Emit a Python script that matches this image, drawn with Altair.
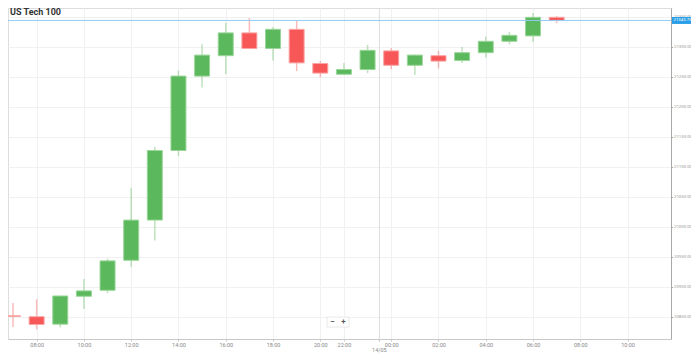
import altair as alt
import pandas as pd

# ---- data ----
times = ["07:00", "08:00", "09:00", "10:00", "11:00", "12:00", "13:00", "14:00",
         "15:00", "16:00", "17:00", "18:00", "19:00", "20:00", "22:00", "23:00",
         "00:00", "01:00", "02:00", "03:00", "04:00", "05:00", "06:00", "07:00"]
opens = [20851.5, 20850, 20837.5, 20884, 20894, 20944, 21011, 21127,
         21251, 21285, 21323, 21297, 21329, 21272, 21254, 21262,
         21293, 21269, 21285, 21277, 21290, 21309, 21318, 21349]
highs = [20873, 20879, 20885, 20913, 20947, 21065, 21133, 21260,
         21304, 21340, 21348, 21333, 21343, 21276, 21273, 21303,
         21298, 21287, 21293, 21299.5, 21317, 21325, 21356, 21351]
lows = [20833, 20829, 20832, 20863, 20889, 20933, 20977, 21118,
        21232, 21254.5, 21296, 21277, 21259.5, 21249, 21254, 21256,
        21263, 21253, 21264, 21273, 21282, 21304, 21308, 21339]
closes = [20850.5, 20837, 20884.5, 20893, 20943, 21011, 21127, 21251,
          21286, 21323, 21297, 21329, 21273, 21256, 21262, 21294,
          21269, 21286, 21276, 21290, 21309, 21319, 21349, 21343.75]

tick_pos = [1, 3, 5, 7, 9, 11, 13, 14, 16, 18, 20, 22, 24, 26]
tick_lab = ["08:00", "10:00", "12:00", "14:00", "16:00", "18:00", "20:00",
            "22:00", "00:00", "02:00", "04:00", "06:00", "08:00", "10:00"]
y_ticks = [20850, 20900, 20950, 21000, 21050, 21100, 21150, 21200, 21250, 21300, 21350]
day_pos = [15.5]
day_lab = ["14/05"]
title_text = "US Tech 100"

df = pd.DataFrame({"i": list(range(len(times))), "time": times, "open": opens,
                   "high": highs, "low": lows, "close": closes})
df["dir"] = ["up" if c >= o else "down" for o, c in zip(opens, closes)]

last = closes[-1]
price_df = pd.DataFrame({"p": [last], "lab": [f"{last:.2f}"]})
day_df = pd.DataFrame({"x": day_pos, "lab": day_lab})

W, H = 663, 331
xscale = alt.Scale(domain=[0, W / 24], nice=False, zero=False)
yscale = alt.Scale(domain=[20812.8, 21364.5], nice=False, zero=False)

lab_arr = [""] * 30
for p, l in zip(tick_pos, tick_lab):
    lab_arr[p] = l
expr = "[" + ",".join("'" + s + "'" for s in lab_arr) + "][datum.value]"

xaxis = alt.Axis(values=tick_pos, labelExpr=expr, title=None, grid=True,
                 gridColor="#f1f1f1", domainColor="#c8c8c8", tickColor="#c8c8c8",
                 tickSize=2, labelFontSize=5.5, labelColor="#888", labelPadding=1,
                 labelOverlap=False)
yaxis = alt.Axis(orient="right", values=y_ticks, format=".2f", title=None, grid=True,
                 gridColor="#f1f1f1", domainColor="#a8a8a8", tickColor="#a8a8a8",
                 tickSize=1.5, labelFontSize=4.3, labelColor="#999", labelPadding=1,
                 labelOverlap=False, labelBound=False, labelFlush=False)


def Y(field):
    return alt.Y(field, scale=yscale, axis=yaxis)


def X(field):
    return alt.X(field, scale=xscale, axis=xaxis)


base = alt.Chart(df)

sep = alt.Chart(day_df).mark_rule(color="#dcdcdc", strokeWidth=1).encode(x=X("x:Q"))
sep_tick = alt.Chart(day_df).mark_rule(color="#c8c8c8").encode(
    x=X("x:Q"), y=alt.value(H), y2=alt.value(H + 3))
sep_lab = alt.Chart(day_df).mark_text(fontSize=5.5, color="#888", baseline="middle").encode(
    x=X("x:Q"), y=alt.value(H + 11.2), text="lab:N")

wick = base.mark_rule(strokeWidth=1.5, opacity=0.4, clip=True).encode(
    x=X("i:Q"),
    y=Y("low:Q"),
    y2="high:Q",
    color=alt.Color("dir:N", scale=alt.Scale(domain=["up", "down"], range=["#5cb85c", "#f55656"]), legend=None),
)
body = base.mark_bar(size=15, strokeWidth=1, clip=True).encode(
    x=X("i:Q"),
    y=Y("open:Q"),
    y2="close:Q",
    fill=alt.Fill("dir:N", scale=alt.Scale(domain=["up", "down"], range=["#5cb85c", "#f75757"]), legend=None),
    stroke=alt.Stroke("dir:N", scale=alt.Scale(domain=["up", "down"], range=["#9ad69a", "#f9a5a5"]), legend=None),
)

price_line = alt.Chart(price_df).mark_rule(color="#8ecbf2", strokeWidth=1).encode(y=Y("p:Q"))
price_box = alt.Chart(price_df).mark_rule(color="#2a9fe8", strokeWidth=7).encode(
    y=Y("p:Q"), x=alt.value(664), x2=alt.value(684))
price_txt = alt.Chart(price_df).mark_text(color="white", fontSize=4.3, align="left", baseline="middle").encode(
    y=Y("p:Q"), x=alt.value(665.5), text="lab:N")

title = alt.Chart(pd.DataFrame({"t": [title_text]})).mark_text(
    fontSize=9, fontWeight="bold", color="#333", align="left", baseline="middle").encode(
    x=alt.value(2), y=alt.value(4), text="t:N")

zoom_df = pd.DataFrame({"a": ["−"], "b": ["+"]})
zoom_box = alt.Chart(zoom_df).mark_rect(fill="white", stroke="#e2e2e2", strokeWidth=0.8).encode(
    x=alt.value(319), x2=alt.value(341), y=alt.value(309), y2=alt.value(319))
zoom_minus = alt.Chart(zoom_df).mark_text(fontSize=8, fontWeight="bold", color="#555", baseline="middle").encode(
    x=alt.value(324.5), y=alt.value(314), text="a:N")
zoom_plus = alt.Chart(zoom_df).mark_text(fontSize=8, fontWeight="bold", color="#555", baseline="middle").encode(
    x=alt.value(335.5), y=alt.value(314), text="b:N")

chart = alt.layer(sep, sep_tick, sep_lab, wick, body, price_line, price_box, price_txt, title,
                  zoom_box, zoom_minus, zoom_plus
).properties(
    width=W, height=H,
    autosize=alt.AutoSizeParams(type="none"),
    padding={"left": 0, "top": 0, "right": 20, "bottom": 14},
).configure_view(stroke=None).configure(font="Roboto").configure_axis(labelOverlap=False)

chart.save("out.html", embed_options={"renderer": "svg", "actions": False})
